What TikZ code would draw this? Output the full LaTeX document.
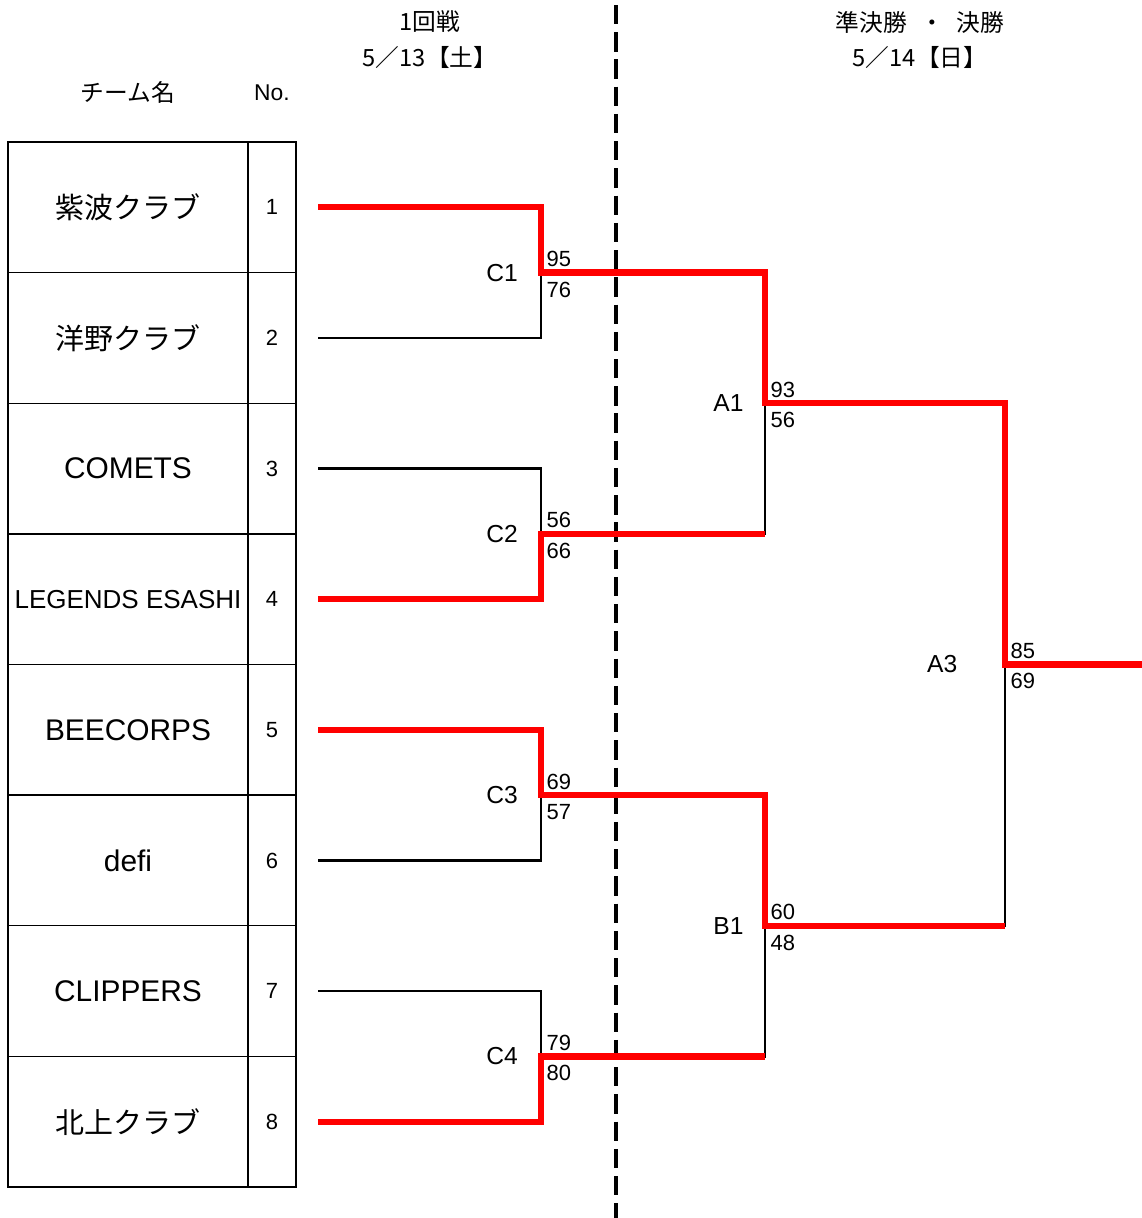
\documentclass[tikz,border=0pt]{standalone}
\usepackage{fontspec}
\setmainfont{Liberation Sans}
\newfontfamily\jp{Noto Sans CJK JP}
\usetikzlibrary{positioning}

\tikzset{
  win/.style={draw=red, line width=3.6pt},
  lose/.style={draw=black, line width=1.5pt},
  score/.style={inner sep=3pt, font=\fontsize{12.5}{14}\selectfont},
  rnd/.style={inner sep=0pt, font=\fontsize{14}{16}\selectfont},
  team/.style={inner sep=0pt, font=\fontsize{17}{20}\selectfont},
  hd/.style={inner sep=0pt, font=\jp\fontsize{13.5}{16}\selectfont}
}

\begin{document}
\begin{tikzpicture}[x=0.02cm, y=-0.02cm, line join=miter]
	\useasboundingbox (0,0) rectangle (1142,1218);
	%%%%%%%%%%%%%%%%%%%%%%%%%%%%%%%%%
	\node[hd] (rnd1) at (430,22) {1回戦};
	\node[hd] (day1) at (430,57) {5／13【土】};
	\node[hd] (rnd2) at (920,22) {準決勝\hspace{0.55em}・\hspace{0.55em}決勝};
	\node[hd] (day2) at (920,57) {5／14【日】};
	\node[hd] (hname) at (128,92) {チーム名};
	\node[hd, font=\fontsize{13}{15}\selectfont] (hno) at (272,93) {No.};
	%%%%%%%%%%%%%%%%%%%%%%%%%%%%%%%%%
	\draw[line width=0.8pt] (8,142) rectangle (296,1187);
	\draw[line width=0.8pt] (248,142) -- (248,1187);
	\foreach \i in {1,...,7}
		\draw[line width=0.8pt] (8,{142+\i*130.625}) -- (296,{142+\i*130.625});
	\foreach \i/\name in {1/{\jp\fontsize{16.5}{18}\selectfont 紫波クラブ},
		2/{\jp\fontsize{16.5}{18}\selectfont 洋野クラブ},
		3/COMETS,
		4/{\fontsize{14.8}{17}\selectfont LEGENDS ESASHI},
		5/BEECORPS,
		6/defi,
		7/CLIPPERS,
		8/{\jp\fontsize{16.5}{18}\selectfont 北上クラブ}}
	{
		\node[team] (n\i) at (128,{142+(\i-0.5)*130.625}) {\name};
		\node[score, font=\fontsize{12.5}{14}\selectfont] (no\i) at (272,{142+(\i-0.5)*130.625}) {\i};
		\coordinate (t\i) at (318,{142+(\i-0.5)*130.625});
	}
	%%%%%%%%%%%%%%%%%%%%%%%%%%%%%%%%%
	\coordinate (c1) at (541,272.6);
	\coordinate (c2) at (541,533.8);
	\coordinate (c3) at (541,795.1);
	\coordinate (c4) at (541,1056.4);
	\coordinate (a1) at (765,403.2);
	\coordinate (b1) at (765,925.8);
	\coordinate (a3) at (1005,664.5);
	\coordinate (w) at (1142,664.5);
	\coordinate (top) at (616,5);
	\coordinate (bot) at (616,1218);
	%%%%%%%%%%%%%%%%%%%%%%%%%%%%%%%%%
	\draw[line width=2.3pt, dash pattern=on 11pt off 4.5pt] (top) -- (bot);
	\foreach \p/\m in {t1/c1,t2/c1,t3/c2,t4/c2,t5/c3,t6/c3,t7/c4,t8/c4,c1/a1,c2/a1,c3/b1,c4/b1,a1/a3,b1/a3}
		\draw[lose] (\p) -| (\m);
	\draw[win] (t1) -| (c1) -| (a1) -| (a3) -- (w);
	\draw[win] (t4) -| (c2) -- (c2 -| a1);
	\draw[win] (t5) -| (c3) -| (b1) -- (b1 -| a3);
	\draw[win] (t8) -| (c4) -- (c4 -| b1);
	%%%%%%%%%%%%%%%%%%%%%%%%%%%%%%%%%
	\foreach \m/\lab/\hi/\lo/\gap in {c1/C1/95/76/13pt, c2/C2/56/66/13pt, c3/C3/69/57/13pt, c4/C4/79/80/13pt,
		a1/A1/93/56/12pt, b1/B1/60/48/12pt, a3/A3/85/69/27pt}
	{
		\node[rnd, left=\gap of \m] (l\m) {\lab};
		\node[score, above right] (h\m) at (\m) {\hi};
		\node[score, below right, yshift=-2pt] (s\m) at (\m) {\lo};
	}
\end{tikzpicture}
\end{document}
